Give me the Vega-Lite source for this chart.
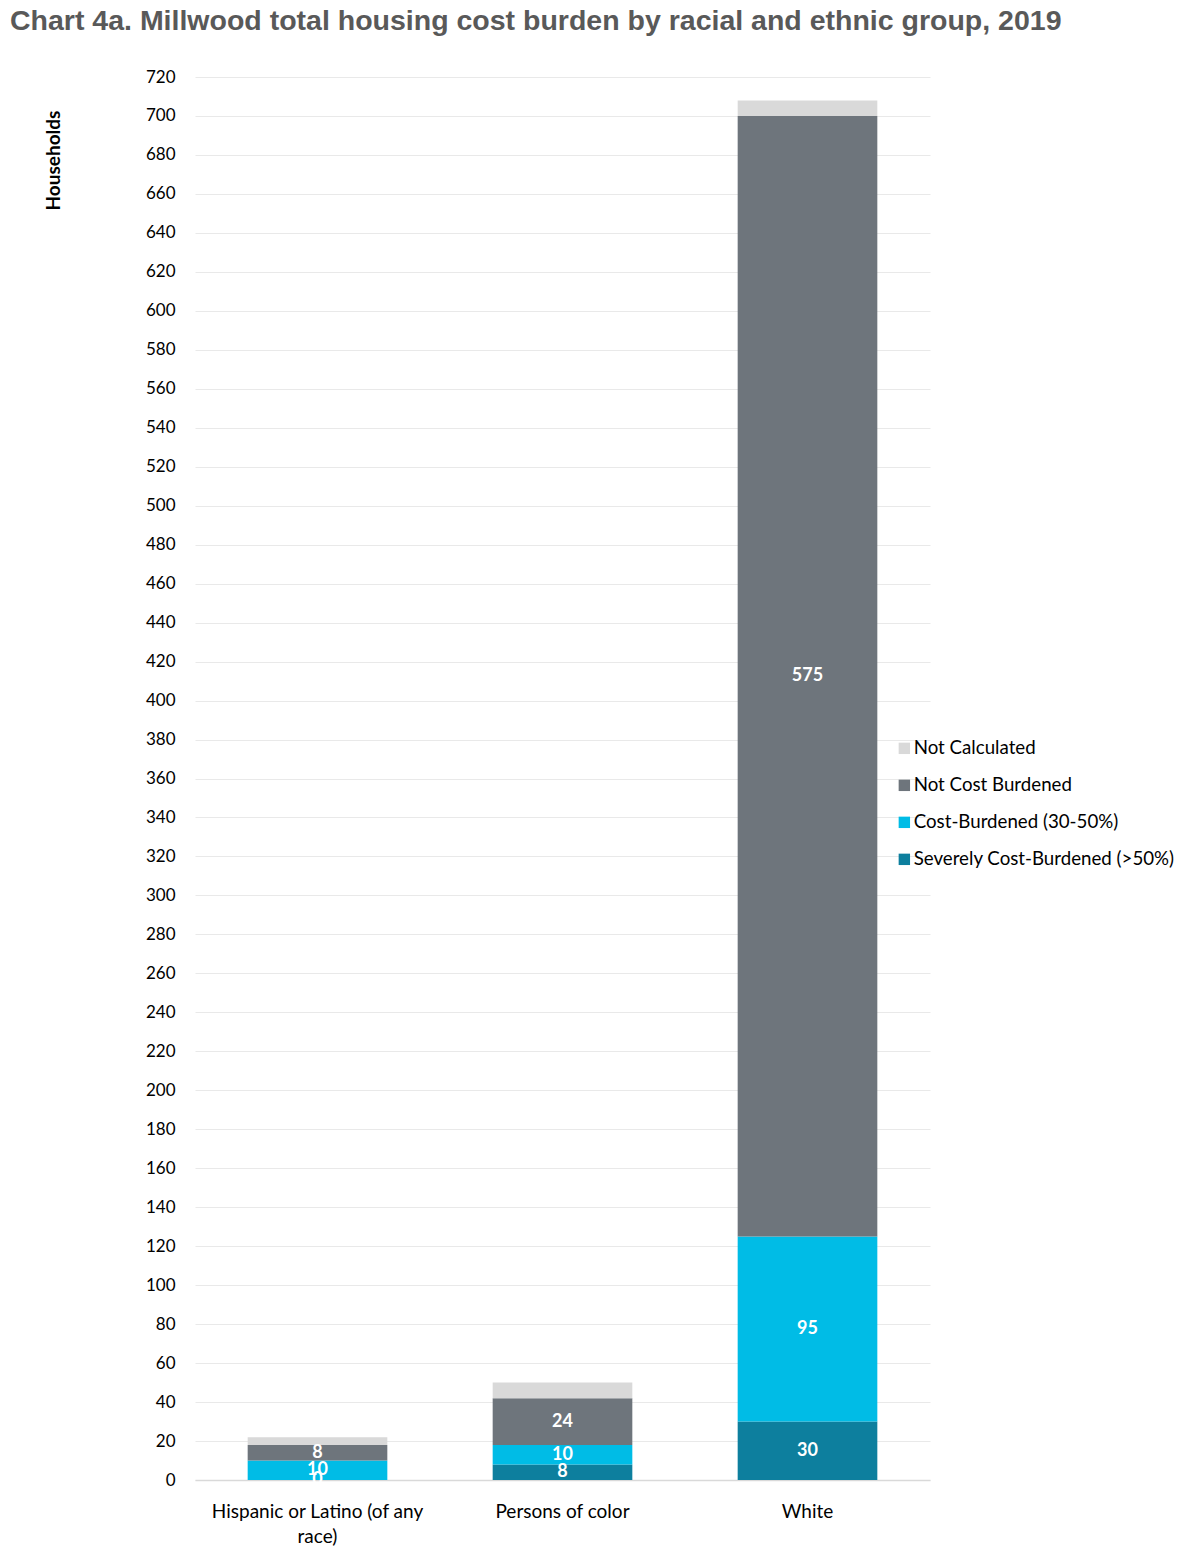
{
  "$schema": "https://vega.github.io/schema/vega-lite/v6.json",
  "width": 735,
  "height": 1403,
  "autosize": {"type": "none"},
  "padding": {"left": 195, "top": 77, "right": 269, "bottom": 84},
  "background": "white",
  "config": {"view": {"stroke": null}},
  "title": {
    "text": "Chart 4a. Millwood total housing cost burden by racial and ethnic group, 2019",
    "anchor": "start",
    "frame": "group",
    "dx": -185,
    "offset": 33,
    "font": "Liberation Sans",
    "fontSize": 28.5,
    "fontWeight": "bold",
    "color": "#595959"
  },
  "data": {
    "values": [
      {"group": "Hispanic or Latino (of any race)", "category": "Severely Cost-Burdened (>50%)", "order": 1, "value": 0},
      {"group": "Hispanic or Latino (of any race)", "category": "Cost-Burdened (30-50%)", "order": 2, "value": 10},
      {"group": "Hispanic or Latino (of any race)", "category": "Not Cost Burdened", "order": 3, "value": 8},
      {"group": "Hispanic or Latino (of any race)", "category": "Not Calculated", "order": 4, "value": 4},
      {"group": "Persons of color", "category": "Severely Cost-Burdened (>50%)", "order": 1, "value": 8},
      {"group": "Persons of color", "category": "Cost-Burdened (30-50%)", "order": 2, "value": 10},
      {"group": "Persons of color", "category": "Not Cost Burdened", "order": 3, "value": 24},
      {"group": "Persons of color", "category": "Not Calculated", "order": 4, "value": 8},
      {"group": "White", "category": "Severely Cost-Burdened (>50%)", "order": 1, "value": 30},
      {"group": "White", "category": "Cost-Burdened (30-50%)", "order": 2, "value": 95},
      {"group": "White", "category": "Not Cost Burdened", "order": 3, "value": 575},
      {"group": "White", "category": "Not Calculated", "order": 4, "value": 8}
    ]
  },
  "transform": [
    {"stack": "value", "groupby": ["group"], "sort": [{"field": "order"}], "as": ["y0", "y1"]},
    {"calculate": "(datum.y0 + datum.y1) / 2", "as": "mid"}
  ],
  "encoding": {
    "x": {
      "field": "group",
      "type": "nominal",
      "title": null,
      "scale": {"paddingInner": 0.43, "paddingOuter": 0.215},
      "axis": {
        "labelAngle": 0,
        "ticks": false,
        "domainColor": "#d9d9d9",
        "domainWidth": 1.5,
        "labelPadding": 22,
        "labelFont": "Lato",
        "labelFontSize": 19,
        "labelColor": "#000000",
        "labelLineHeight": 25,
        "labelLimit": 0,
        "labelExpr": "datum.value == 'Hispanic or Latino (of any race)' ? ['Hispanic or Latino (of any', 'race)'] : datum.value"
      }
    }
  },
  "layer": [
    {
      "mark": {"type": "bar"},
      "encoding": {
        "y": {
          "field": "y0",
          "type": "quantitative",
          "scale": {"domain": [0, 720], "nice": false},
          "title": "Households",
          "axis": {
            "values": [0,20,40,60,80,100,120,140,160,180,200,220,240,260,280,300,320,340,360,380,400,420,440,460,480,500,520,540,560,580,600,620,640,660,680,700,720],
            "labelOverlap": false,
            "domain": false,
            "ticks": false,
            "gridColor": "#e9e9e9",
            "labelPadding": 20,
            "labelFont": "Lato",
            "labelFontSize": 17,
            "labelColor": "#000000",
            "titleFont": "Lato",
            "titleFontSize": 19,
            "titleFontWeight": "bold",
            "titleColor": "#000000",
            "titleAngle": -90,
            "titleAlign": "center",
            "titleBaseline": "middle",
            "titleX": -142,
            "titleY": 83
          }
        },
        "y2": {"field": "y1"},
        "color": {
          "field": "category",
          "type": "nominal",
          "scale": {
            "domain": ["Not Calculated", "Not Cost Burdened", "Cost-Burdened (30-50%)", "Severely Cost-Burdened (>50%)"],
            "range": ["#d9d9d9", "#6e757c", "#00bce6", "#0d7f9e"]
          },
          "legend": {
            "title": null,
            "orient": "none",
            "legendX": 700,
            "legendY": 662,
            "symbolType": "square",
            "symbolSize": 130,
            "symbolStrokeWidth": 0,
            "labelFont": "Lato",
            "labelFontSize": 18.7,
            "labelColor": "#000000",
            "labelOffset": 0,
            "labelLimit": 0,
            "rowPadding": 17
          }
        }
      }
    },
    {
      "transform": [{"filter": "datum.category != 'Not Calculated'"}],
      "mark": {"type": "text", "color": "white", "font": "Lato", "fontSize": 18, "fontWeight": "bold", "baseline": "middle"},
      "encoding": {
        "y": {
          "field": "mid",
          "type": "quantitative",
          "title": "Households",
          "axis": {
            "values": [0,20,40,60,80,100,120,140,160,180,200,220,240,260,280,300,320,340,360,380,400,420,440,460,480,500,520,540,560,580,600,620,640,660,680,700,720],
            "labelOverlap": false
          }
        },
        "text": {"field": "value", "type": "quantitative"}
      }
    }
  ]
}
